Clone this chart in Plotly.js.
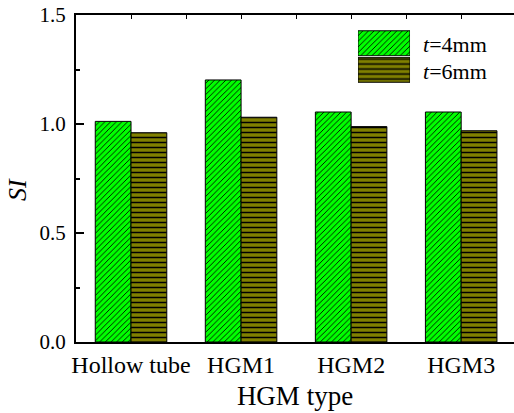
<!DOCTYPE html>
<html>
<head>
<meta charset="utf-8">
<script src="https://cdn.plot.ly/plotly-3.0.1.min.js"></script>
<style>html,body{margin:0;padding:0;background:#fff;}#chart{width:514px;height:413px;}</style>
</head>
<body>
<div id="chart"></div>
<script>
// ---- data ----
var categories = ["Hollow tube", "HGM1", "HGM2", "HGM3"];
var si_t4 = [1.012, 1.202, 1.055, 1.055];
var si_t6 = [0.960, 1.031, 0.988, 0.969];
var seriesNames = ["t=4mm", "t=6mm"];
var seriesLabels = ["<i>t</i>=4mm", "<i>t</i>=6mm"];
var yTickVals = [0, 0.5, 1.0, 1.5];
var yTickText = ["0.0", "0.5", "1.0", "1.5"];

var FONT = "Liberation Serif";
var GREEN = "#00ff00";
var OLIVE = "#808000";
var catIdx = categories.map(function (c, i) { return i; });

var patT4 = {shape: "/", fgcolor: "#000000", bgcolor: GREEN, fgopacity: 1, size: 4, solidity: 0.22, fillmode: "replace"};
var patT6 = {shape: "-", fgcolor: "#000000", bgcolor: OLIVE, fgopacity: 1, size: 5, solidity: 0.3, fillmode: "replace"};

var traces = [
  {
    type: "bar", name: seriesNames[0], x: catIdx, y: si_t4,
    marker: {color: GREEN, line: {color: "#000", width: 1}, pattern: patT4},
    showlegend: false, hoverinfo: "skip"
  },
  {
    type: "bar", name: seriesNames[1], x: catIdx, y: si_t6,
    marker: {color: OLIVE, line: {color: "#000", width: 1}, pattern: patT6},
    showlegend: false, hoverinfo: "skip"
  },
  // legend swatches (drawn in small inset subplots)
  {
    type: "bar", orientation: "h", x: [1], y: [1], width: 0.943,
    xaxis: "x2", yaxis: "y2",
    marker: {color: GREEN, line: {color: "#000", width: 1}, pattern: patT4},
    showlegend: false, hoverinfo: "skip"
  },
  {
    type: "bar", orientation: "h", x: [1], y: [0], width: 0.943,
    xaxis: "x4", yaxis: "y4",
    marker: {color: OLIVE, line: {color: "#000", width: 1}, pattern: patT6},
    showlegend: false, hoverinfo: "skip"
  },
  // empty trace to carry the top mirror axis
  {type: "scatter", x: [], y: [], xaxis: "x3", yaxis: "y", showlegend: false, hoverinfo: "skip"}
];

var XR = [-0.5, 3.48];

var layout = {
  width: 514, height: 413,
  margin: {l: 76, r: 0, t: 15, b: 71},
  paper_bgcolor: "#fff", plot_bgcolor: "#fff",
  font: {family: FONT, color: "#000"},
  barmode: "group", bargap: 0.35, bargroupgap: 0,
  showlegend: false,
  xaxis: {
    range: XR, tickvals: catIdx, ticktext: categories,
    ticks: "", showline: true, linecolor: "#000", linewidth: 2,
    showgrid: false, zeroline: false,
    tickfont: {family: FONT, size: 24, color: "#000"},
    title: {text: "HGM type", font: {family: FONT, size: 27, color: "#000"}, standoff: 9}
  },
  xaxis3: {
    overlaying: "x", side: "top", anchor: "y", range: XR,
    tick0: 0, dtick: 0.5, ticks: "inside", ticklen: 4, tickwidth: 1, tickcolor: "#000",
    showticklabels: false, showline: true, linecolor: "#000", linewidth: 2,
    showgrid: false, zeroline: false
  },
  yaxis: {
    range: [0, 1.5], tickvals: yTickVals, ticktext: yTickText,
    ticks: "inside", ticklen: 8, tickwidth: 2, tickcolor: "#000",
    minor: {dtick: 0.25, tick0: 0, ticks: "inside", ticklen: 4, tickwidth: 2, tickcolor: "#000", showgrid: false},
    showline: true, linecolor: "#000", linewidth: 2,
    showgrid: false, zeroline: false,
    tickfont: {family: FONT, size: 21, color: "#000"},
    ticklabelstandoff: 4
  },
  xaxis2: {domain: [0.6438, 0.7626], anchor: "y2", range: [0, 1], visible: false, fixedrange: true},
  yaxis2: {domain: [0.873, 0.954], anchor: "x2", range: [0.5, 1.5], visible: false, fixedrange: true},
  xaxis4: {domain: [0.6438, 0.7626], anchor: "y4", range: [0, 1], visible: false, fixedrange: true},
  yaxis4: {domain: [0.792, 0.873], anchor: "x4", range: [-0.5, 0.5], visible: false, fixedrange: true},
  annotations: [
    {text: "<i>SI</i>", textangle: -90, xref: "paper", yref: "paper", x: -0.1324, y: 0.465,
     xanchor: "center", yanchor: "middle", showarrow: false, font: {family: FONT, size: 26, color: "#000"}},
    {text: seriesLabels[0], xref: "paper", yref: "paper", x: 0.7877, y: 0.911,
     xanchor: "left", yanchor: "middle", showarrow: false, font: {family: FONT, size: 22, color: "#000"}},
    {text: seriesLabels[1], xref: "paper", yref: "paper", x: 0.7877, y: 0.826,
     xanchor: "left", yanchor: "middle", showarrow: false, font: {family: FONT, size: 22, color: "#000"}}
  ]
};

Plotly.newPlot("chart", traces, layout, {staticPlot: true, displayModeBar: false});
</script>
</body>
</html>
